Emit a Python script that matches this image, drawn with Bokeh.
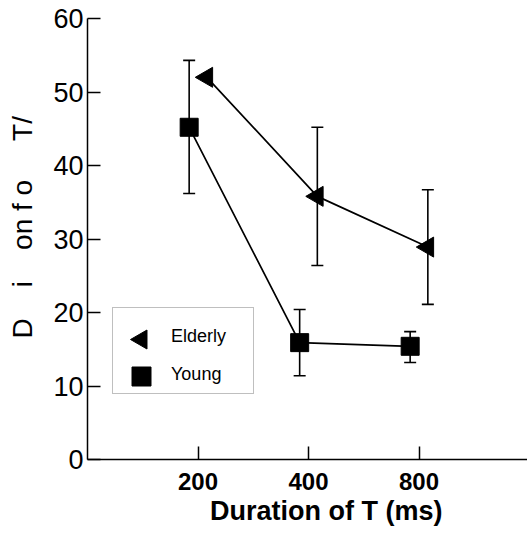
from bokeh.plotting import figure
from bokeh.models import (Range1d, FixedTicker, ColumnDataSource, Whisker, TeeHead, Legend, LegendItem)
from bokeh.embed import file_html
from bokeh.resources import INLINE
import math

# ---- data ----
durations = ["200", "400", "800"]
series_names = ["Elderly", "Young"]
elderly_mean = [52.0, 35.8, 28.9]
elderly_upper = [None, 45.2, 36.7]
elderly_lower = [None, 26.4, 21.1]
young_mean = [45.2, 15.9, 15.4]
young_upper = [54.3, 20.4, 17.4]
young_lower = [36.2, 11.4, 13.2]
y_ticks = [0, 10, 20, 30, 40, 50, 60]

FONT = "Liberation Sans"
NB = "\u00a0"

W, H = 527, 533
BL, BR, BT, BB = 87, 0, 18, 74
FRAME_W = W - BL - BR
FRAME_H = H - BT - BB
X_END = FRAME_W / 110.5
Y_END = 60

pos = [i + 1 for i in range(len(durations))]
dodge_amt = 0.08
ex = [v + dodge_amt for v in pos]
yx = [v - dodge_amt for v in pos]

p = figure(width=W, height=H, x_range=Range1d(0, X_END), y_range=Range1d(0, Y_END),
           output_backend="svg", toolbar_location=None,
           min_border_left=BL, min_border_right=BR, min_border_top=BT, min_border_bottom=BB)
p.outline_line_color = None
p.xgrid.visible = False
p.ygrid.visible = False
p.background_fill_color = "white"

src_e = ColumnDataSource(dict(x=ex, y=elderly_mean))
src_y = ColumnDataSource(dict(x=yx, y=young_mean))

p.line("x", "y", source=src_e, line_color="black", line_width=1.7)
p.line("x", "y", source=src_y, line_color="black", line_width=1.7)

# error bars
e_idx = [i for i in range(len(pos)) if elderly_upper[i] is not None]
src_ee = ColumnDataSource(dict(x=[ex[i] for i in e_idx],
                               upper=[elderly_upper[i] for i in e_idx],
                               lower=[elderly_lower[i] for i in e_idx]))
src_ye = ColumnDataSource(dict(x=yx, upper=young_upper, lower=young_lower))
for s in (src_ee, src_ye):
    w = Whisker(source=s, base="x", upper="upper", lower="lower",
                line_color="black", line_width=1.6,
                upper_head=TeeHead(size=12, line_color="black", line_width=1.6),
                lower_head=TeeHead(size=12, line_color="black", line_width=1.6))
    p.add_layout(w)

TRI = dict(marker="triangle", size=20, angle=math.pi / 2, fill_color="black", line_color="black")
SQ = dict(marker="square", size=18, fill_color="black", line_color="black")
p.scatter("x", "y", source=src_e, **TRI)
p.scatter("x", "y", source=src_y, **SQ)

# axes
p.yaxis.ticker = FixedTicker(ticks=y_ticks)
p.yaxis.minor_tick_line_color = None
p.yaxis.major_tick_in = 13
p.yaxis.major_tick_out = 0
p.yaxis.major_label_standoff = 4
p.yaxis.major_label_text_font = FONT
p.yaxis.major_label_text_font_size = "27px"
p.yaxis.major_label_text_color = "black"
p.yaxis.axis_line_width = 1.5
p.yaxis.major_tick_line_width = 1.5
p.yaxis.axis_label = (NB * 3 + "D" + NB * 4 + "i" + NB * 4 + "on" + NB + "f" + NB + "o" + NB * 5 + "T/")
p.yaxis.axis_label_text_font = FONT
p.yaxis.axis_label_text_font_size = "28px"
p.yaxis.axis_label_text_font_style = "normal"
p.yaxis.axis_label_text_color = "black"
p.yaxis.axis_label_standoff = 12

p.xaxis.ticker = FixedTicker(ticks=pos)
p.xaxis.major_label_overrides = {v: d for v, d in zip(pos, durations)}
p.xaxis.minor_tick_line_color = None
p.xaxis.major_tick_in = 13
p.xaxis.major_tick_out = 0
p.xaxis.major_label_standoff = 13
p.xaxis.major_label_text_font = FONT
p.xaxis.major_label_text_font_size = "24px"
p.xaxis.major_label_text_font_style = "bold"
p.xaxis.major_label_text_color = "black"
p.xaxis.axis_line_width = 1.5
p.xaxis.major_tick_line_width = 1.5
p.xaxis.axis_label = NB * 5 + "Duration of T (ms)"
p.xaxis.axis_label_text_font = FONT
p.xaxis.axis_label_text_font_size = "27px"
p.xaxis.axis_label_text_font_style = "bold"
p.xaxis.axis_label_text_color = "black"
p.xaxis.axis_label_standoff = 3

# ---- legend (box + labels by Bokeh Legend, swatches drawn to match the original's rotated marker) ----
LEG_X, LEG_Y = 25, 65          # screen px from frame bottom-left
LEG_W, LEG_H = 140, 83
PAD, GW, GH, SPACING, TITLE_H = 8, 42, 20, 17, 10
dummy_e = p.scatter([], [], marker="triangle", fill_alpha=0, line_alpha=0)
dummy_y = p.scatter([], [], marker="square", fill_alpha=0, line_alpha=0)
legend = Legend(items=[LegendItem(label=series_names[0], renderers=[dummy_e]),
                       LegendItem(label=series_names[1], renderers=[dummy_y])],
                location=(LEG_X, LEG_Y))
legend.title = NB
legend.title_text_font_size = "8px"
legend.title_standoff = 1
legend.border_line_color = "#808080"
legend.border_line_width = 1
legend.background_fill_alpha = 0
legend.label_text_font = FONT
legend.label_text_font_size = "18px"
legend.label_text_color = "black"
legend.glyph_width = GW
legend.glyph_height = GH
legend.label_height = GH
legend.label_standoff = 8
legend.label_width = LEG_W - 2 * PAD - GW - 8
legend.padding = PAD
legend.spacing = SPACING
legend.margin = 0
p.add_layout(legend, "center")

px_x = FRAME_W / X_END
px_y = FRAME_H / Y_END
sw_x = (LEG_X + PAD + GW / 2) / px_x
row1 = LEG_Y + LEG_H - PAD - TITLE_H - GH / 2
row2 = row1 - GH - SPACING
p.scatter([sw_x], [row1 / px_y], **dict(TRI, size=19))
p.scatter([sw_x], [row2 / px_y], **dict(SQ, size=19))

open("out.html", "w").write(file_html(p, INLINE))
